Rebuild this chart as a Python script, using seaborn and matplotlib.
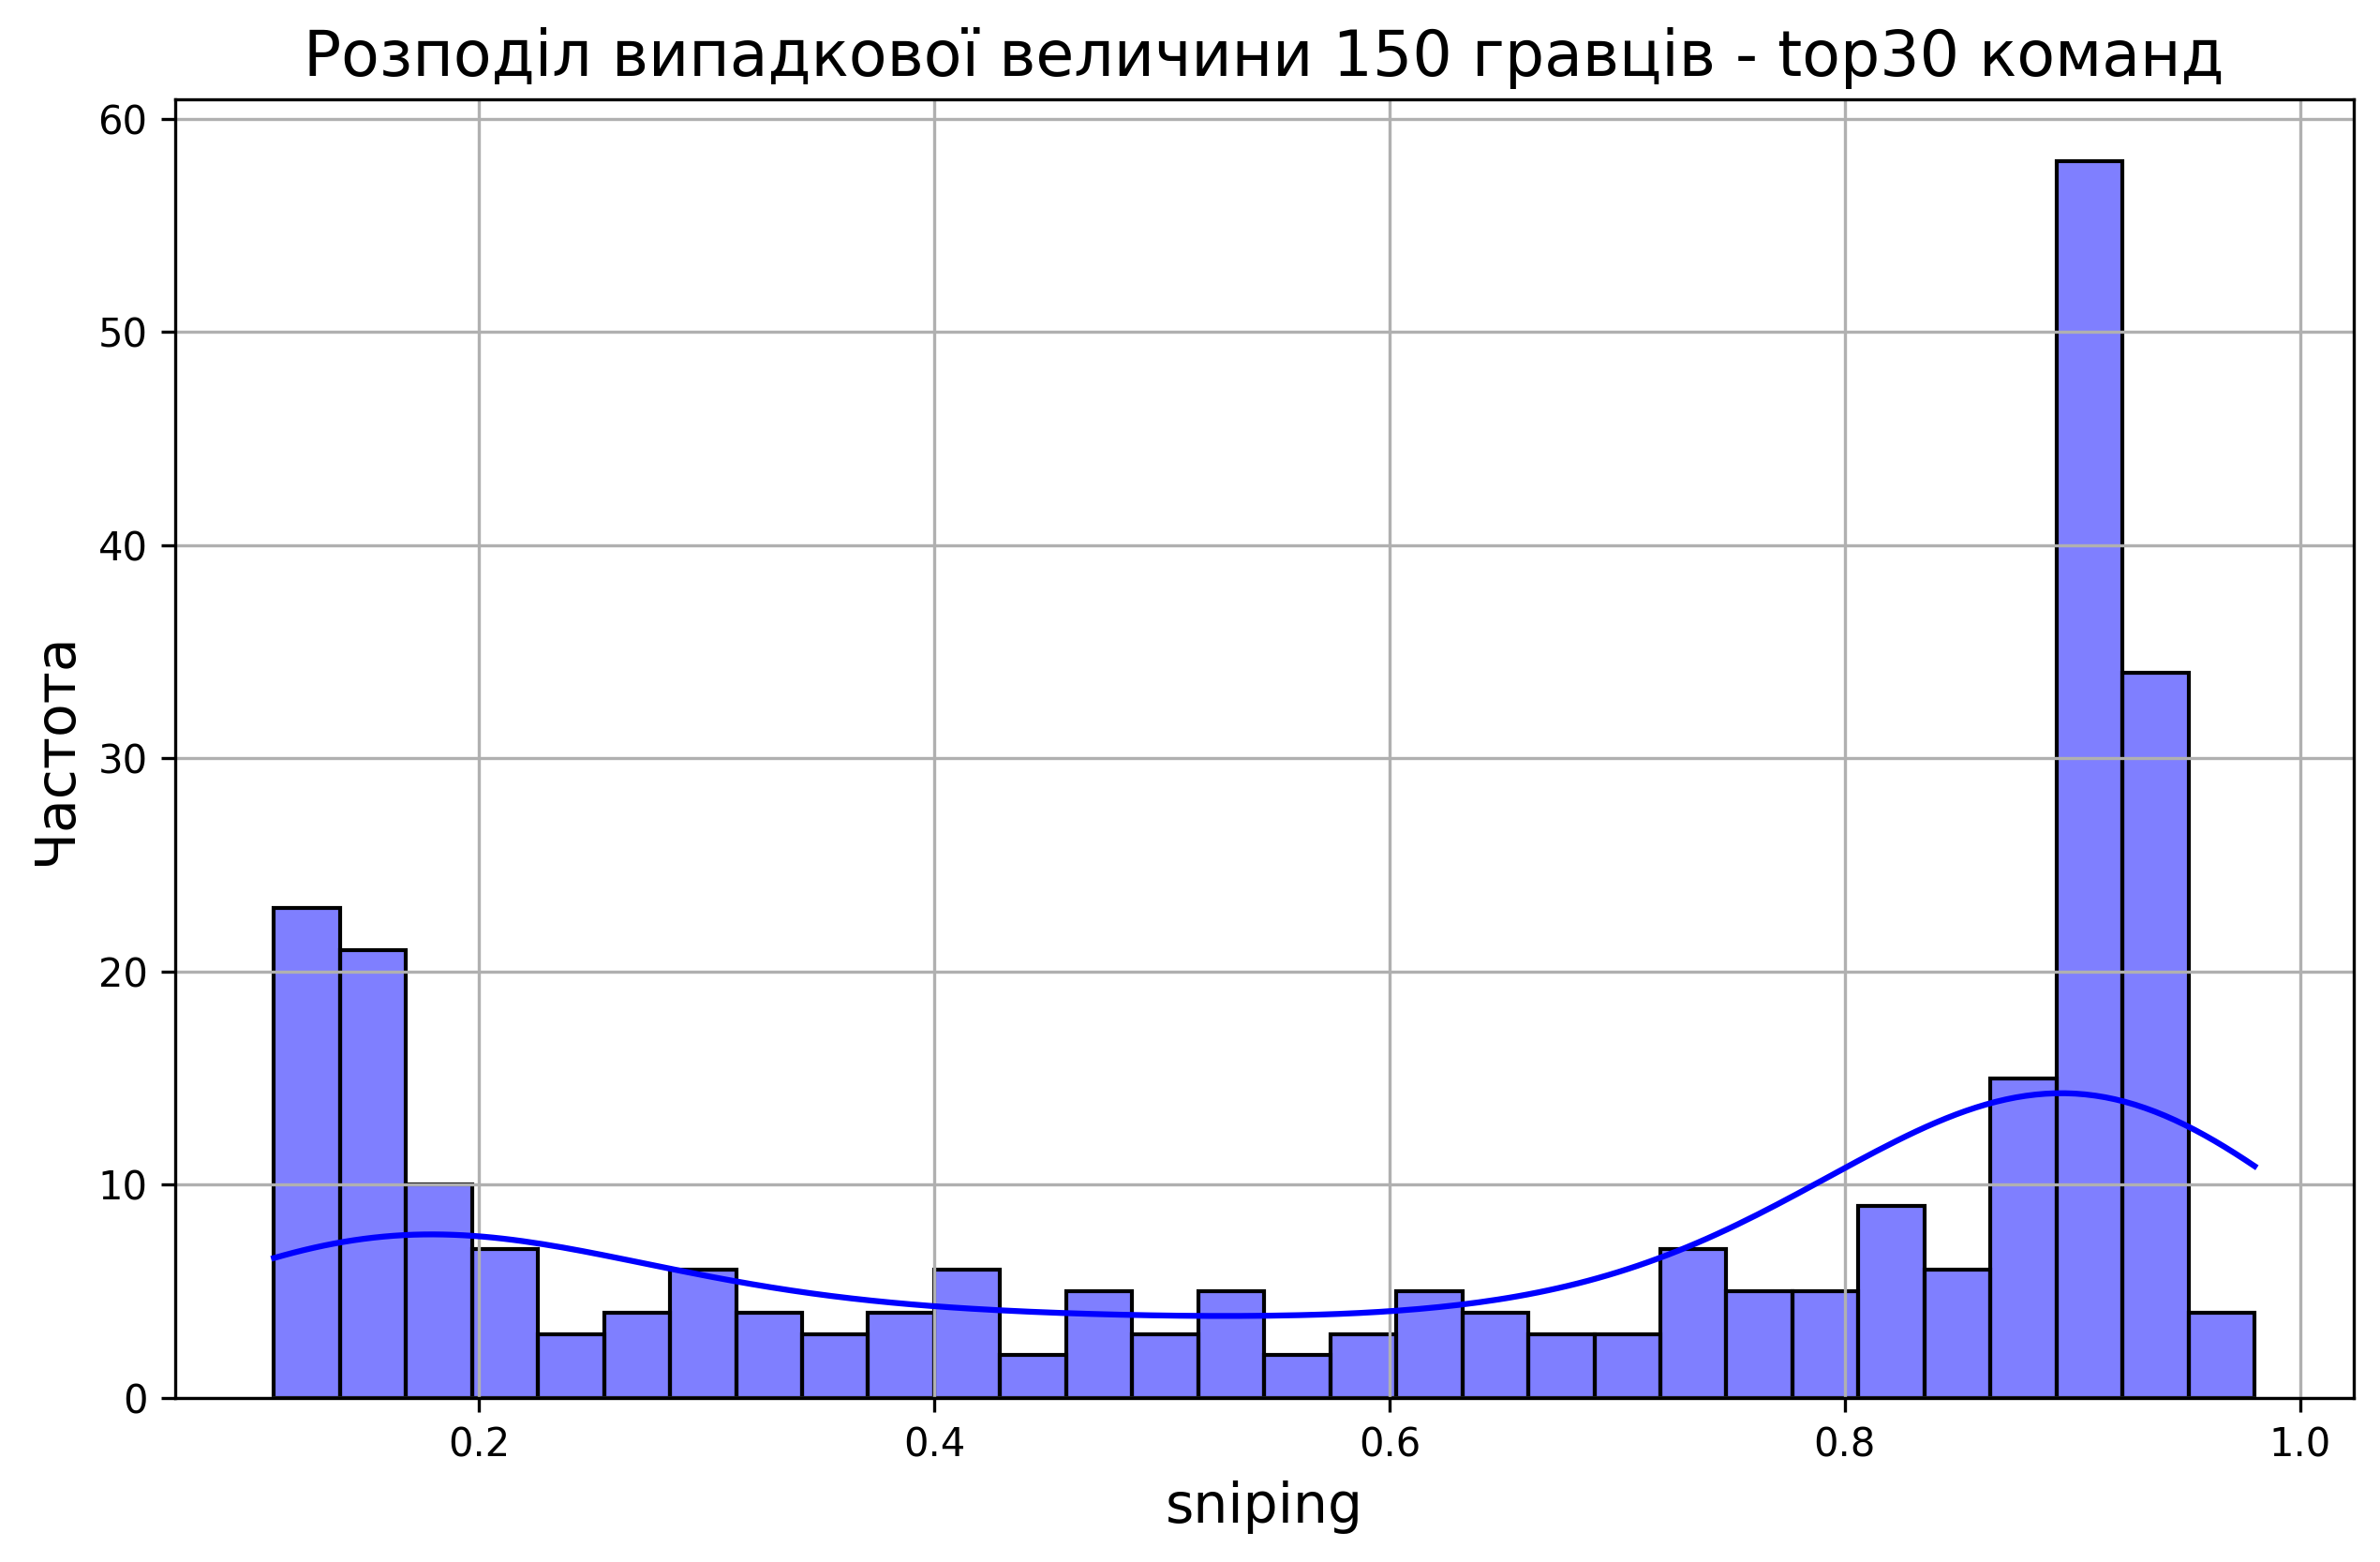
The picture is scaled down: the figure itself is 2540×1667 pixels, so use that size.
import matplotlib
matplotlib.use("Agg")
import matplotlib.pyplot as plt
import seaborn as sns
import numpy as np

# Histogram counts (30 equal bins)
x_min = 0.110
x_max = 0.980
counts = [23, 21, 10, 7, 3, 4, 6, 4, 3, 4,
          6, 2, 5, 3, 5, 2, 3, 5, 4, 3,
          3, 7, 5, 5, 9, 6, 15, 58, 34, 4]

title = "Розподіл випадкової величини 150 гравців - top30 команд"
x_label = "sniping"
y_label = "Частота"

# Rebuild samples from the bin counts (bin centres, keeping the observed min / max)
n_bins = len(counts)
edges = np.linspace(x_min, x_max, n_bins + 1)
centers = (edges[:-1] + edges[1:]) / 2
values = np.repeat(centers, counts)
values[0] = x_min
values[-1] = x_max

fig = plt.figure(figsize=(2540 / 300, 1667 / 300), dpi=300)
ax = fig.add_axes([0.0735, 0.105, 0.9154, 0.8312])

sns.histplot(values, bins=n_bins, kde=True, color="blue", edgecolor="black",
             alpha=0.5, ax=ax)

ax.set_title(title, fontsize=16)
ax.set_xlabel(x_label, fontsize=14)
ax.set_ylabel(y_label, fontsize=14)
ax.grid(True)

fig.savefig("out.png", dpi=300)
